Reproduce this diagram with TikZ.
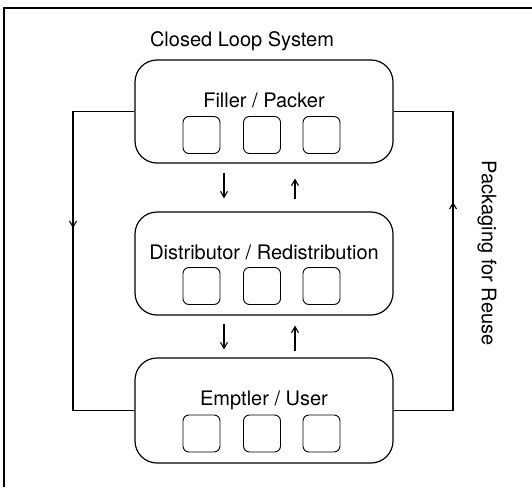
\documentclass[tikz,border=0pt]{standalone}
\usepackage{fontspec}
\setmainfont{TeX Gyre Heros}
\usetikzlibrary{arrows.meta}
\begin{document}
\begin{tikzpicture}[x=1pt,y=-1pt,
  line/.style={line width=1.1pt, black},
  arr/.style={line width=1.1pt, -{Straight Barb[length=6pt,width=7pt]}},
  stage/.style={draw, line width=1.2pt, rounded corners=22pt, minimum width=258pt, inner sep=0pt},
  slot/.style={draw, line width=0.9pt, rounded corners=6pt, minimum width=37pt, minimum height=37pt, inner sep=0pt},
  lbl/.style={font=\fontsize{20}{22}\selectfont, inner sep=0pt}]
\useasboundingbox (0,0) rectangle (532,487);
% outer frame (only top and left edges visible)
\draw[line width=1.6pt] (4,487) -- (4,8) -- (532,8);

% stages
\node[stage, minimum height=103pt] (top) at (264,111.5) {};
\node[stage, minimum height=103pt] (mid) at (264,263.5) {};
\node[stage, minimum height=105pt] (bot) at (264,410.5) {};

\node[lbl] (title) at (242,41) {Closed Loop System};
\node[lbl] (tl) at (264,100) {Filler / Packer};
\node[lbl] (ml) at (264,252) {Distributor / Redistribution};
\node[lbl] (bl) at (264,400) {Emptler / User};

\foreach \n/\y in {t/135, m/286, b/433.5}{
  \node[slot] (\n1) at (201.5,\y) {};
  \node[slot] (\n2) at (262,\y) {};
  \node[slot] (\n3) at (321.5,\y) {};
}

% vertical arrows between stages
\coordinate (dx) at (224,0);
\coordinate (ux) at (295,0);
\draw[arr, shorten <=9pt, shorten >=13pt] (top.south -| dx) -- (mid.north -| dx);
\draw[arr, shorten <=12pt, shorten >=15pt] (mid.north -| ux) -- (top.south -| ux);
\draw[arr, shorten <=8pt, shorten >=8pt] (mid.south -| dx) -- (bot.north -| dx);
\draw[arr, shorten <=6pt, shorten >=10pt] (bot.north -| ux) -- (mid.south -| ux);

% outer loop
\coordinate (lx) at (73,0);
\coordinate (rx) at (453,0);
\coordinate (la) at (73,228);
\coordinate (ra) at (453,202);
\draw[line] (top.west) -- (top.west -| lx) -- (bot.west -| lx) -- (bot.west);
\draw[line] (bot.east) -- (bot.east -| rx) -- (top.east -| rx) -- (top.east);
\draw[arr] (top.west -| lx) -- (la);
\draw[arr] (bot.east -| rx) -- (ra);

\node[lbl, rotate=-90] (reuse) at (487,253) {Packaging for Reuse};
\end{tikzpicture}
\end{document}
